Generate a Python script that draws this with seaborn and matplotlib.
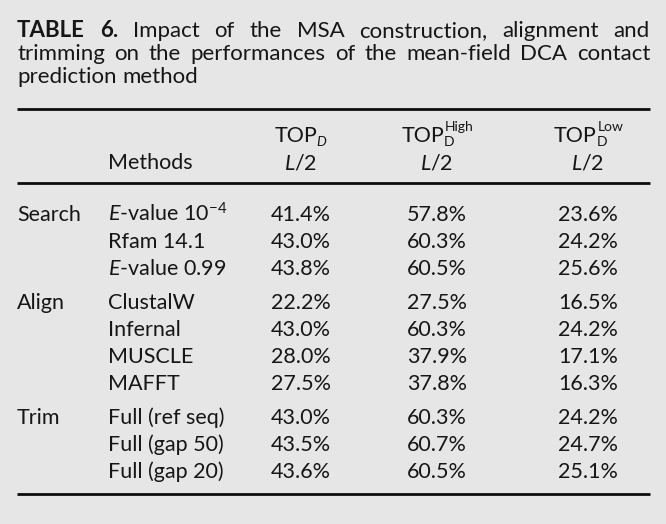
import matplotlib
matplotlib.use("Agg")
import matplotlib.pyplot as plt
import numpy as np
import pandas as pd
import seaborn as sns

# table content
title_lines = [
    ["TABLE", "6.", "Impact", "of", "the", "MSA", "construction,", "alignment", "and"],
    ["trimming", "on", "the", "performances", "of", "the", "mean-field", "DCA", "contact"],
    ["prediction", "method"],
]
n_bold = 2  # "TABLE 6." is bold

groups = ["Search", "Align", "Trim"]
group_of = [0, 0, 0, 1, 1, 1, 1, 2, 2, 2]
methods = ["$E$-value 10$^{-4}$", "Rfam 14.1", "$E$-value 0.99",
           "ClustalW", "Infernal", "MUSCLE", "MAFFT",
           "Full (ref seq)", "Full (gap 50)", "Full (gap 20)"]
top_d = [41.4, 43.0, 43.8, 22.2, 43.0, 28.0, 27.5, 43.0, 43.5, 43.6]
top_high = [57.8, 60.3, 60.5, 27.5, 60.3, 37.9, 37.8, 60.3, 60.7, 60.5]
top_low = [23.6, 24.2, 25.6, 16.5, 24.2, 17.1, 16.3, 24.2, 24.7, 25.1]
# header: main text, subscript, superscript, italic subscript?
head_main = ["TOP", "TOP", "TOP"]
head_sub = ["D", "D", "D"]
head_sup = ["", "High", "Low"]
head_sub_italic = [True, False, False]
sub_head = "$L$/2"

df = pd.DataFrame({"group": [groups[g] for g in group_of], "method": methods,
                   "TOP_D": top_d, "TOP_D_High": top_high, "TOP_D_Low": top_low})

sns.set_theme(style="white")
bg = "#e6e6e6"
ink = "#161616"
plt.rcParams["font.family"] = ["Lato", "DejaVu Sans"]
plt.rcParams["mathtext.fontset"] = "custom"
plt.rcParams["mathtext.rm"] = "Lato"
plt.rcParams["mathtext.it"] = "Lato:italic"
plt.rcParams["mathtext.bf"] = "Lato:bold"

fig = plt.figure(figsize=(6.66, 5.24), dpi=100, facecolor=bg)
ax = fig.add_axes([0, 0, 1, 1])
ax.set_facecolor(bg)
ax.set_xlim(0, 666)
ax.set_ylim(524, 0)
ax.axis("off")

left, right = 17, 650
fs_title = 16
fs_body = 15.5
fs_small = 10

renderer = fig.canvas.get_renderer()

def width(t):
    return t.get_window_extent(renderer).width

# title, justified
title_base = [37, 60, 83]
for li, words in enumerate(title_lines):
    texts = []
    for wi, w in enumerate(words):
        bold = (li == 0 and wi < n_bold)
        t = ax.text(0, title_base[li], w, fontsize=fs_title, color=ink,
                    fontweight="bold" if bold else "normal", va="baseline", ha="left")
        texts.append(t)
    widths = [width(t) for t in texts]
    if li < len(title_lines) - 1:
        gap = (right - left - sum(widths)) / (len(words) - 1)
    else:
        gap = fs_title * 100 / 72 * 0.25
    x = left
    for t, w in zip(texts, widths):
        t.set_x(x)
        x += w + gap

# rules
rule_y = [109, 183, 494]
for y in rule_y:
    ax.plot([left, right], [y, y], color="#0d0d0d", lw=2.0, solid_capstyle="butt")

col_x = [301, 437, 588]
method_x = 108
head_base, sub_base = 142, 169

# header
ax.text(method_x, sub_base, "Methods", fontsize=fs_body, color=ink, va="baseline", ha="left")
for cx, m, sb, sp, it in zip(col_x, head_main, head_sub, head_sup, head_sub_italic):
    tm = ax.text(0, head_base, m, fontsize=fs_body, color=ink, va="baseline", ha="left")
    ts = ax.text(0, head_base + 4, sb, fontsize=fs_small, color=ink, va="baseline",
                 ha="left", style="italic" if it else "normal")
    tp = ax.text(0, head_base - 11, sp, fontsize=fs_small, color=ink, va="baseline", ha="left")
    wm = width(tm)
    wextra = max(width(ts), width(tp) if sp else 0)
    x0 = cx - (wm + wextra) / 2
    tm.set_x(x0)
    ts.set_x(x0 + wm - (1.5 if it else 0))
    tp.set_x(x0 + wm + 1)
    ax.text(cx, sub_base, sub_head, fontsize=fs_body, color=ink, va="baseline", ha="center")

# body rows
pitch, group_gap, first_base = 27, 7, 221
prev = None
for i, row in df.iterrows():
    g = group_of[i]
    yb = first_base + i * pitch + g * group_gap
    if g != prev:
        ax.text(left, yb, row["group"], fontsize=fs_body, color=ink, va="baseline", ha="left")
        prev = g
    ax.text(method_x, yb, row["method"], fontsize=fs_body, color=ink, va="baseline", ha="left")
    for cx, col in zip(col_x, ["TOP_D", "TOP_D_High", "TOP_D_Low"]):
        ax.text(cx, yb, f"{row[col]:.1f}%", fontsize=fs_body, color=ink,
                va="baseline", ha="center")

fig.savefig("out.png", dpi=100, facecolor=bg)
